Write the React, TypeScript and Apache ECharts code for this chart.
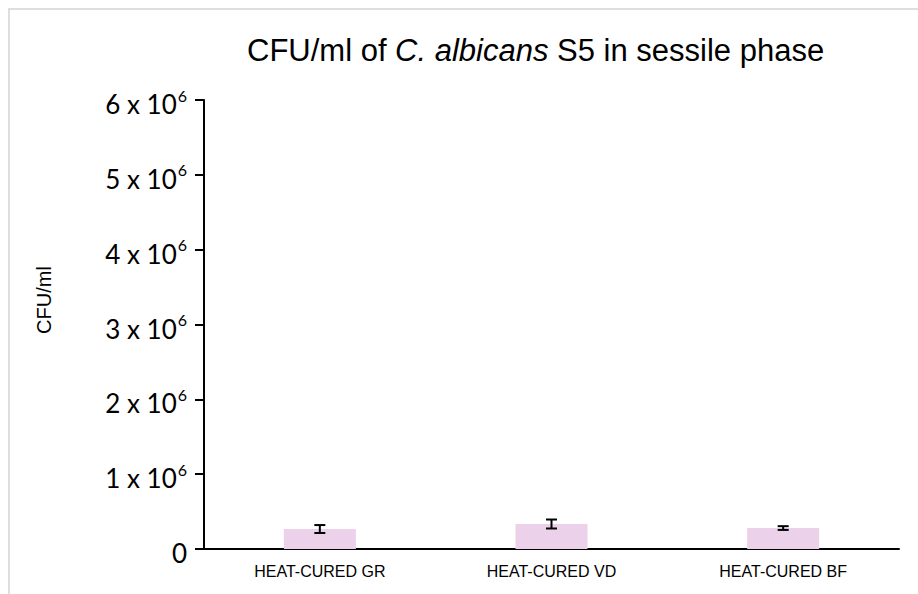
import React, { useEffect, useRef } from "react";
import * as echarts from "echarts";

const categories = ["HEAT-CURED GR", "HEAT-CURED VD", "HEAT-CURED BF"];
const meanValues = [267000, 334000, 280000];
const errorValues = [53000, 60000, 25000];
const yTickExponent = 6;

export default function App() {
  const ref = useRef<HTMLDivElement>(null);
  useEffect(() => {
    if (!ref.current) return;
    const chart = echarts.init(ref.current, undefined, { renderer: "svg" });
    const errData = meanValues.map((m, i) => [i, m - errorValues[i], m + errorValues[i]]);
    chart.setOption({
      animation: false,
      backgroundColor: "#ffffff",
      title: {
        text: "{a|CFU/ml of }{i|C. albicans}{a| S5 in sessile phase}",
        left: 242,
        top: 30,
        textStyle: {
          fontWeight: "normal",
          rich: {
            a: { fontFamily: "Liberation Sans", fontSize: 31, fontWeight: "normal", color: "#000" },
            i: { fontFamily: "Liberation Sans", fontSize: 31, fontWeight: "normal", fontStyle: "italic", color: "#000" },
          },
        },
      },
      graphic: [
        {
          type: "rect",
          shape: { x: 9, y: 9, width: 1000, height: 1000 },
          style: { fill: "none", stroke: "#dedede", lineWidth: 2 },
          silent: true,
        },
        {
          type: "text",
          x: 44,
          y: 300,
          rotation: Math.PI / 2,
          style: {
            text: "CFU/ml",
            fontFamily: "Liberation Sans",
            fontSize: 20,
            fill: "#000",
            align: "center",
            verticalAlign: "middle",
          },
        },
      ],
      grid: { left: 204, right: 19, top: 100, bottom: 45, containLabel: false },
      xAxis: {
        type: "category",
        data: categories,
        axisLine: { lineStyle: { color: "#000", width: 2 } },
        axisTick: { show: false },
        axisLabel: {
          fontFamily: "Liberation Sans",
          fontSize: 16,
          color: "#000",
          margin: 14,
        },
      },
      yAxis: {
        type: "value",
        min: 0,
        max: 6000000,
        interval: 1000000,
        axisLine: { show: true, lineStyle: { color: "#000", width: 2 } },
        axisTick: { show: true, length: 9, lineStyle: { color: "#000", width: 2 } },
        splitLine: { show: false },
        axisLabel: {
          margin: 17,
          formatter: (v: number) => {
            const k = Math.round(v / 1000000);
            if (k === 0) return "{n|0}";
            return "{n|" + k + " x 10}{s|" + yTickExponent + "}";
          },
          rich: {
            n: { fontFamily: "Lato", fontSize: 26, color: "#000", lineHeight: 34, verticalAlign: "bottom" },
            s: { fontFamily: "Lato", fontSize: 16, color: "#000", lineHeight: 34, verticalAlign: "top", padding: [4, 0, 0, 1] },
          },
        },
      },
      series: [
        {
          type: "bar",
          data: meanValues,
          barWidth: 72,
          itemStyle: { color: "#ecd1ea" },
          silent: true,
          z: 2,
        },
        {
          type: "custom",
          data: errData,
          silent: true,
          z: 10,
          renderItem: (params: any, api: any) => {
            const x = api.value(0);
            const lo = api.coord([x, api.value(1)]);
            const hi = api.coord([x, api.value(2)]);
            const hw = 5.5;
            const style = { stroke: "#000", lineWidth: 2 };
            return {
              type: "group",
              children: [
                { type: "line", shape: { x1: lo[0], y1: lo[1], x2: hi[0], y2: hi[1] }, style },
                { type: "line", shape: { x1: lo[0] - hw, y1: lo[1], x2: lo[0] + hw, y2: lo[1] }, style },
                { type: "line", shape: { x1: hi[0] - hw, y1: hi[1], x2: hi[0] + hw, y2: hi[1] }, style },
              ],
            };
          },
        },
      ],
    });
    return () => chart.dispose();
  }, []);
  return (
    <div
      ref={ref}
      style={{ position: "absolute", left: 0, top: 0, width: 918, height: 594 }}
    />
  );
}
